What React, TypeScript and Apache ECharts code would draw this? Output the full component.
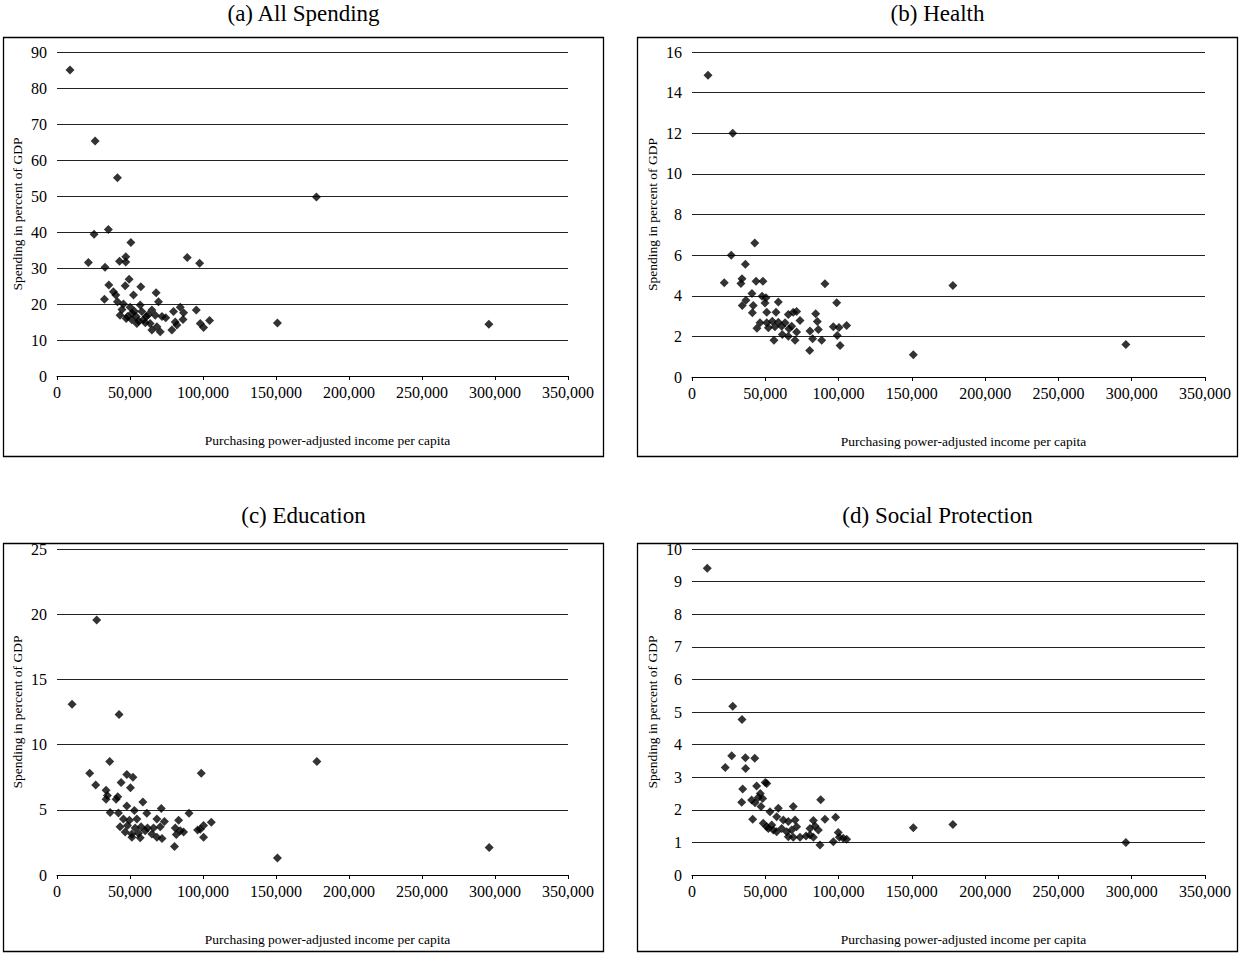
import React, { useEffect, useRef } from "react";
import * as echarts from "echarts";

// ---- Data (x: purchasing power-adjusted income per capita, y: spending in % of GDP)
const panelTitles = ["(a) All Spending", "(b) Health", "(c) Education", "(d) Social Protection"];
const xAxisName = "Purchasing power-adjusted income per capita";
const yAxisName = "Spending in percent of GDP";
const yMax = [90, 16, 25, 10];
const yInterval = [10, 2, 5, 1];

const allSpending: [number, number][] = [
  [8900, 85.0], [26100, 65.3], [41400, 55.1], [25400, 39.4], [35200, 40.7], [50600, 37.1],
  [21500, 31.5], [32900, 30.2], [42800, 31.9], [47100, 33.1], [47100, 31.7], [89200, 32.9], [97700, 31.3],
  [49400, 26.9], [35500, 25.3], [46700, 25.1], [57400, 24.8], [67900, 23.1], [38600, 23.4], [40300, 22.5],
  [52400, 22.5], [32500, 21.3], [41400, 20.6], [69500, 20.6], [45500, 20.0], [50100, 19.1], [57000, 19.7],
  [43200, 16.9], [47400, 16.0], [51300, 17.4], [54200, 16.5], [58100, 17.9], [61100, 16.5], [65000, 18.3],
  [67300, 16.9], [71900, 16.5], [79800, 17.9], [84400, 19.1], [86700, 17.6], [95400, 18.3], [54700, 14.6],
  [59200, 15.6], [63800, 14.6], [68400, 13.7], [65000, 12.8], [78700, 12.8], [82100, 14.2], [86300, 15.7],
  [98100, 14.6], [100400, 13.5], [104500, 15.4], [51300, 15.6], [48300, 16.5], [70700, 12.3], [56000, 15.3],
  [60500, 14.8], [62500, 17.0], [53000, 18.0], [44500, 18.5], [74500, 16.2], [81000, 15.0],
  [151000, 14.7], [177700, 49.7], [295800, 14.4],
];

const health: [number, number][] = [
  [10900, 14.85], [27800, 12.0], [42800, 6.6], [26800, 6.0], [36400, 5.55], [22000, 4.64],
  [34100, 4.84], [33400, 4.6], [43700, 4.72], [48400, 4.72], [90700, 4.59], [40900, 4.11], [47800, 3.98],
  [50500, 3.9], [36800, 3.78], [34300, 3.52], [41800, 3.52], [49800, 3.64], [58900, 3.69], [98700, 3.66],
  [41200, 3.16], [51000, 3.19], [57300, 3.19], [69100, 3.19], [71400, 3.23], [65700, 3.08], [84400, 3.11],
  [73700, 2.78], [46400, 2.67], [51000, 2.67], [54800, 2.75], [58900, 2.7], [63500, 2.67], [85500, 2.73],
  [44300, 2.4], [52100, 2.42], [56600, 2.47], [61200, 2.5], [68000, 2.5], [66200, 2.37], [86200, 2.34],
  [96400, 2.47], [100300, 2.44], [105500, 2.54], [80500, 2.26], [61600, 2.09], [65700, 2.01], [71400, 2.21],
  [99100, 2.04], [82300, 1.88], [88500, 1.81], [55900, 1.81], [70300, 1.81], [101000, 1.55], [80300, 1.31],
  [151000, 1.1], [178000, 4.5], [296000, 1.6],
];

const education: [number, number][] = [
  [10300, 13.1], [27200, 19.56], [42500, 12.3], [98800, 7.8], [36100, 8.7], [22400, 7.8], [26500, 6.9],
  [47800, 7.7], [52000, 7.5], [43900, 7.1], [50300, 6.7], [33600, 6.5], [34500, 6.1], [33600, 5.8],
  [41600, 6.0], [40500, 5.8], [58800, 5.6], [47800, 5.3], [71400, 5.1], [36400, 4.8], [42100, 4.75],
  [53000, 4.95], [90400, 4.74], [61500, 4.74], [45500, 4.3], [49600, 4.2], [54700, 4.3], [68400, 4.3],
  [73600, 4.1], [83300, 4.2], [105700, 4.05], [43200, 3.7], [48300, 3.8], [53500, 3.6], [57600, 3.7],
  [62000, 3.6], [66100, 3.6], [70700, 3.7], [81000, 3.6], [86700, 3.3], [98100, 3.5], [100400, 3.8],
  [46700, 3.3], [51300, 3.15], [55800, 3.2], [60400, 3.4], [65000, 3.15], [68400, 2.9], [71900, 2.8],
  [51300, 2.9], [57000, 2.85], [81700, 3.1], [84400, 3.4], [96300, 3.46], [100400, 2.9], [80500, 2.18],
  [151000, 1.3], [178000, 8.7], [296000, 2.1],
];

const socialProtection: [number, number][] = [
  [10400, 9.41], [27800, 5.18], [34100, 4.77], [27100, 3.66], [36400, 3.6], [42800, 3.58], [22700, 3.3],
  [36600, 3.27], [50000, 2.84], [44100, 2.73], [34600, 2.64], [51000, 2.81], [46600, 2.5], [48200, 2.35],
  [87800, 2.31], [33900, 2.23], [40700, 2.3], [43000, 2.22], [45200, 2.38], [47100, 2.1], [53200, 1.94],
  [58900, 2.05], [69100, 2.1], [41400, 1.71], [48600, 1.59], [51000, 1.48], [54400, 1.53], [57800, 1.79],
  [62300, 1.69], [65700, 1.64], [70300, 1.69], [71400, 1.48], [68000, 1.38], [61200, 1.43], [64600, 1.33],
  [57800, 1.33], [55500, 1.38], [52100, 1.43], [65700, 1.17], [69100, 1.16], [73700, 1.16], [77800, 1.2],
  [82800, 1.67], [83900, 1.5], [90700, 1.71], [98000, 1.77], [80500, 1.43], [86200, 1.38], [80500, 1.23],
  [82800, 1.16], [87300, 0.92], [96400, 1.02], [99800, 1.3], [100500, 1.16], [105500, 1.1], [103200, 1.13],
  [151000, 1.45], [178000, 1.55], [296000, 1.0],
];

const panelData = [allSpending, health, education, socialProtection];

// ---- Layout
const grids = [
  { left: 57, top: 52, width: 511, height: 324 },
  { left: 692, top: 52, width: 513, height: 325 },
  { left: 57, top: 549, width: 511, height: 326 },
  { left: 692, top: 549, width: 513, height: 326 },
];
const boxes = [
  { x: 3.5, y: 37.5, w: 600, h: 419 },
  { x: 637.5, y: 37.5, w: 600, h: 419 },
  { x: 3.5, y: 543.5, w: 600, h: 408 },
  { x: 637.5, y: 543.5, w: 600, h: 408 },
];
const titleY = [13, 13, 515, 515];

const FONT = "'Liberation Serif', 'Times New Roman', serif";
const fmt = (v: number) => String(v).replace(/\B(?=(\d{3})+(?!\d))/g, ",");

export default function App() {
  const ref = useRef<HTMLDivElement>(null);
  useEffect(() => {
    if (!ref.current) return;
    const chart = echarts.init(ref.current, null, { renderer: "svg" });
    const option: any = {
      animation: false,
      backgroundColor: "#fff",
      grid: grids.map((g) => ({ ...g, containLabel: false })),
      xAxis: grids.map((_, i) => ({
        type: "value",
        gridIndex: i,
        min: 0,
        max: 350000,
        interval: 50000,
        name: xAxisName,
        nameLocation: "middle",
        nameGap: 57,
        nameTextStyle: { fontFamily: FONT, fontSize: 13.5, color: "#000", padding: [0, 0, 0, 30] },
        axisLine: { show: true, onZero: false, lineStyle: { color: "#000", width: 1 } },
        axisTick: { show: true, length: 4, lineStyle: { color: "#000" } },
        axisLabel: { formatter: fmt, fontFamily: FONT, fontSize: 16, color: "#000", margin: 8 },
        splitLine: { show: false },
      })),
      yAxis: grids.map((_, i) => ({
        type: "value",
        gridIndex: i,
        min: 0,
        max: yMax[i],
        interval: yInterval[i],
        name: yAxisName,
        nameLocation: "middle",
        nameGap: 33,
        nameTextStyle: { fontFamily: FONT, fontSize: 13.5, color: "#000" },
        axisLine: { show: false },
        axisTick: { show: false },
        axisLabel: { fontFamily: FONT, fontSize: 16, color: "#000", margin: 10 },
        splitLine: { show: true, lineStyle: { color: "#222", width: 1 } },
      })),
      series: panelData.map((d, i) => ({
        type: "scatter",
        xAxisIndex: i,
        yAxisIndex: i,
        data: d,
        symbol: "diamond",
        symbolSize: 9,
        itemStyle: { color: "#000" },
      })),
      graphic: [
        ...boxes.map((b) => ({
          type: "rect",
          shape: { x: b.x, y: b.y, width: b.w, height: b.h },
          style: { fill: "none", stroke: "#000", lineWidth: 1.3 },
          silent: true,
        })),
        ...boxes.map((b, i) => ({
          type: "text",
          x: b.x + b.w / 2,
          y: titleY[i],
          style: {
            text: panelTitles[i],
            font: `23px ${FONT}`,
            fill: "#000",
            textAlign: "center",
            textVerticalAlign: "middle",
          },
          silent: true,
        })),
      ],
    };
    chart.setOption(option);
    return () => chart.dispose();
  }, []);
  return (
    <div
      ref={ref}
      style={{ position: "absolute", left: 0, top: 0, width: 1241, height: 953 }}
    />
  );
}
